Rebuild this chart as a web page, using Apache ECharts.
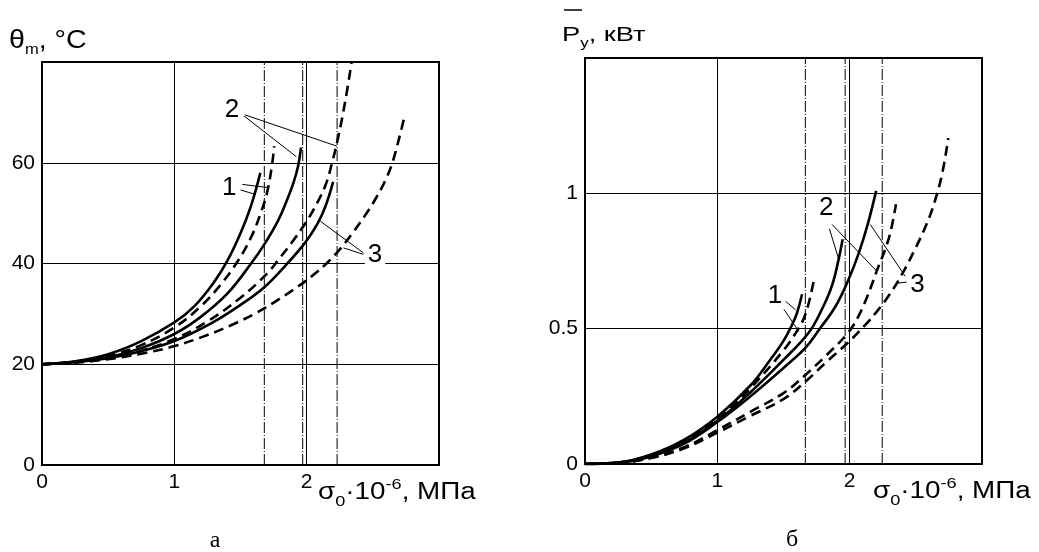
<!DOCTYPE html>
<html>
<head>
<meta charset="utf-8">
<script src="https://cdn.jsdelivr.net/npm/echarts@6/dist/echarts.min.js"></script>
<style>
html, body { margin: 0; padding: 0; background: #fff; }
#main { width: 1039px; height: 552px; }
</style>
</head>
<body>
<div id="main"></div>
<script>
// chart "а": θm, °C vs σ0
var aSolid1 = [[0,20],[0.25,20.6],[0.5,22],[0.75,24.6],[1,28.3],[1.15,31.5],[1.3,36.3],[1.4,40.5],[1.5,46],[1.58,51.5],[1.65,58]];
var aDash1  = [[0,20],[0.25,20.5],[0.5,21.7],[0.75,23.8],[1,27.3],[1.2,31.5],[1.35,35.8],[1.48,40.5],[1.58,45.2],[1.65,49.8],[1.7,54],[1.735,59],[1.755,63.3]];
var aSolid2 = [[0,20],[0.25,20.5],[0.5,21.4],[0.75,23.2],[1,26],[1.2,29.4],[1.4,34],[1.58,40],[1.68,43.8],[1.78,48.3],[1.85,52.5],[1.9,56],[1.935,59.3],[1.957,63]];
var aDash2  = [[0,20],[0.25,20.4],[0.5,21.2],[0.75,22.7],[1,25],[1.25,28.5],[1.5,33.2],[1.7,38],[1.8,41.2],[1.9,44.6],[1.98,47.6],[2.05,50.6],[2.14,55.4],[2.19,59.8],[2.24,65.3],[2.29,72],[2.34,80]];
var aSolid3 = [[0,20],[0.25,20.4],[0.5,21.2],[0.75,22.6],[1,24.6],[1.29,28.3],[1.49,31.6],[1.68,35.3],[1.84,39.6],[1.99,44.2],[2.08,47.8],[2.14,51.2],[2.2,56.2]];
var aDash3  = [[0,20],[0.25,20.3],[0.5,21],[0.75,22.1],[1,23.6],[1.25,25.8],[1.45,28],[1.62,30.2],[1.76,32.4],[1.9,34.8],[2.04,37.5],[2.15,40],[2.25,42.8],[2.34,45.8],[2.44,49.5],[2.52,52.8],[2.6,56.8],[2.65,60.2],[2.7,65],[2.74,69.3]];
var aLimits = [1.68, 1.97, 2.23];
var aLabels = [[1.414,55.1,'1'],[1.436,70.6,'2'],[2.517,41.8,'3']];
var aLeaders = [
    [[1.514,55.7],[1.70,55.1]], [[1.50,54.6],[1.614,53.7]],
    [[1.526,69.3],[1.922,61.2]], [[1.534,69.5],[2.228,63.3]],
    [[2.429,42.1],[2.103,48.4]], [[2.429,41.8],[2.278,43.1]]
];

// chart "б": Py, кВт vs σ0
var bSolid1 = [[0,0],[0.25,0.005],[0.5,0.035],[0.75,0.09],[1,0.175],[1.25,0.29],[1.4,0.385],[1.5,0.455],[1.56,0.51],[1.6,0.555],[1.64,0.627]];
var bDash1  = [[0,0],[0.25,0.005],[0.5,0.032],[0.75,0.085],[1,0.165],[1.25,0.28],[1.5,0.42],[1.6,0.49],[1.667,0.555],[1.73,0.68]];
var bSolid2 = [[0,0],[0.25,0.005],[0.5,0.03],[0.75,0.08],[1,0.16],[1.25,0.265],[1.5,0.385],[1.69,0.485],[1.79,0.571],[1.867,0.66],[1.917,0.757],[1.947,0.83]];
var bDash2  = [[0,0],[0.25,0.004],[0.5,0.024],[0.75,0.062],[1,0.125],[1.25,0.193],[1.5,0.262],[1.667,0.33],[1.82,0.4],[1.98,0.48],[2.06,0.54],[2.13,0.615],[2.21,0.72],[2.27,0.795],[2.31,0.86],[2.35,0.96]];
var bSolid3 = [[0,0],[0.25,0.004],[0.5,0.028],[0.75,0.075],[1,0.155],[1.25,0.25],[1.5,0.355],[1.667,0.43],[1.77,0.497],[1.89,0.58],[1.99,0.68],[2.07,0.781],[2.14,0.892],[2.2,1.009]];
var bDash3  = [[0,0],[0.25,0.004],[0.5,0.022],[0.75,0.058],[1,0.116],[1.25,0.178],[1.5,0.24],[1.667,0.305],[1.82,0.375],[1.98,0.445],[2.12,0.515],[2.2,0.56],[2.3,0.625],[2.4,0.705],[2.5,0.8],[2.58,0.885],[2.64,0.965],[2.7,1.075],[2.745,1.204]];
var bLimits = [1.665, 1.966, 2.246];
var bLabels = [[1.435,0.62,'1'],[1.823,0.946,'2'],[2.512,0.663,'3']];
var bLeaders = [
    [[1.516,0.601],[1.591,0.57]], [[1.503,0.572],[1.615,0.49]],
    [[1.867,0.885],[2.206,0.712]], [[1.847,0.869],[1.917,0.757]],
    [[2.419,0.694],[2.156,0.885]], [[2.43,0.672],[2.36,0.668]]
];

var FONT = '"Liberation Sans", Arial, sans-serif';

function curve(data, dashed, gi) {
    return {
        type: 'line', xAxisIndex: gi, yAxisIndex: gi, data: data,
        symbol: 'none', smooth: 0.4, silent: true, z: 4,
        lineStyle: { color: '#000', width: 2.6, type: dashed ? [10, 6] : 'solid', cap: 'butt' }
    };
}
function thin(data, gi, type) {
    return {
        type: 'line', xAxisIndex: gi, yAxisIndex: gi, data: data,
        symbol: 'none', silent: true, z: 3,
        lineStyle: { color: '#000', width: 1, type: type }
    };
}
function labels(list, gi) {
    return {
        type: 'scatter', xAxisIndex: gi, yAxisIndex: gi, symbolSize: 1, silent: true, z: 6,
        itemStyle: { color: '#fff', opacity: 1 },
        data: list.map(function (l) { return [l[0], l[1], l[2]]; }),
        label: {
            show: true, position: 'inside', color: '#000', opacity: 1, fontSize: 26, fontFamily: FONT,
            textBorderWidth: 0, backgroundColor: '#fff', padding: [0, 3],
            formatter: function (p) { return p.value[2]; }
        }
    };
}

var series = [];
[[aSolid1,0],[aDash1,1],[aSolid2,0],[aDash2,1],[aSolid3,0],[aDash3,1]].forEach(function (c) { series.push(curve(c[0], c[1], 0)); });
[[bSolid1,0],[bDash1,1],[bSolid2,0],[bDash2,1],[bSolid3,0],[bDash3,1]].forEach(function (c) { series.push(curve(c[0], c[1], 1)); });
aLimits.forEach(function (x) { series.push(thin([[x, 0], [x, 80]], 0, [11, 2, 1, 2])); });
bLimits.forEach(function (x) { series.push(thin([[x, 0], [x, 1.5]], 1, [11, 2, 1, 2])); });
aLeaders.forEach(function (l) { series.push(thin(l, 0, 'solid')); });
bLeaders.forEach(function (l) { series.push(thin(l, 1, 'solid')); });
series.push(labels(aLabels, 0));
series.push(labels(bLabels, 1));

function xAxis(gi) {
    return {
        gridIndex: gi, type: 'value', min: 0, max: 3, interval: 1,
        axisLine: { show: false }, axisTick: { show: false },
        axisLabel: { color: '#000', fontSize: 21, fontFamily: FONT, margin: 7,
            formatter: function (v) { return v === 3 ? '' : String(v); } },
        splitLine: { show: true, lineStyle: { color: '#000', width: 1 } }
    };
}
function yAxis(gi, max, step) {
    return {
        gridIndex: gi, type: 'value', min: 0, max: max, interval: step,
        axisLine: { show: false }, axisTick: { show: false },
        axisLabel: { color: '#000', fontSize: 21, fontFamily: FONT, margin: 7,
            formatter: function (v) { return v === max ? '' : String(v); } },
        splitLine: { show: true, lineStyle: { color: '#000', width: 1 } }
    };
}

// rich-text token style for graphic texts
var tok = function (size, lh, va) {
    var o = { fontSize: size, lineHeight: lh, fontFamily: FONT, fontWeight: 'normal', fill: '#000' };
    if (va) o.verticalAlign = va;
    return o;
};
function richText(x, y, sx, text, rich) {
    return { type: 'text', x: x, y: y, scaleX: sx, silent: true,
        style: { text: text, rich: rich, fill: '#000', verticalAlign: 'top', textVerticalAlign: 'top' } };
}
var xTitle = '{a|σ}{s|0}{a|·10}{p|-6}{a|, МПа}';
var xRich = { a: tok(23, 32), s: tok(15, 12, 'bottom'), p: tok(15, 6, 'top') };

var myChart = echarts.init(document.getElementById('main'));
myChart.setOption({
    animation: false,
    backgroundColor: '#fff',
    graphic: [
        richText(9, 25, 1.1, '{a|θ}{s|m}{a|, °C}', { a: tok(26, 32), s: tok(15, 8, 'bottom') }),
        richText(562, 20, 1.3, '{a|P}{s|y}{a|, кВт}', { a: tok(21, 30), s: tok(13, 8, 'bottom') }),
        { type: 'line', shape: { x1: 564, y1: 10, x2: 582, y2: 10 }, style: { stroke: '#000', lineWidth: 1.5 } },
        richText(318, 477, 1.21, xTitle, xRich),
        richText(873, 476, 1.21, xTitle, xRich),
        { type: 'text', x: 215, y: 541, style: { text: 'а', fill: '#000', font: '24px "Liberation Serif", serif', textAlign: 'center', textVerticalAlign: 'middle' } },
        { type: 'text', x: 792, y: 540, style: { text: 'б', fill: '#000', font: '24px "Liberation Serif", serif', textAlign: 'center', textVerticalAlign: 'middle' } }
    ],
    grid: [
        { left: 42, top: 62, width: 397, height: 403, show: true, borderColor: '#000', borderWidth: 2, backgroundColor: 'transparent' },
        { left: 585, top: 58, width: 397, height: 406, show: true, borderColor: '#000', borderWidth: 2, backgroundColor: 'transparent' }
    ],
    xAxis: [xAxis(0), xAxis(1)],
    yAxis: [yAxis(0, 80, 20), yAxis(1, 1.5, 0.5)],
    series: series
});
</script>
</body>
</html>
